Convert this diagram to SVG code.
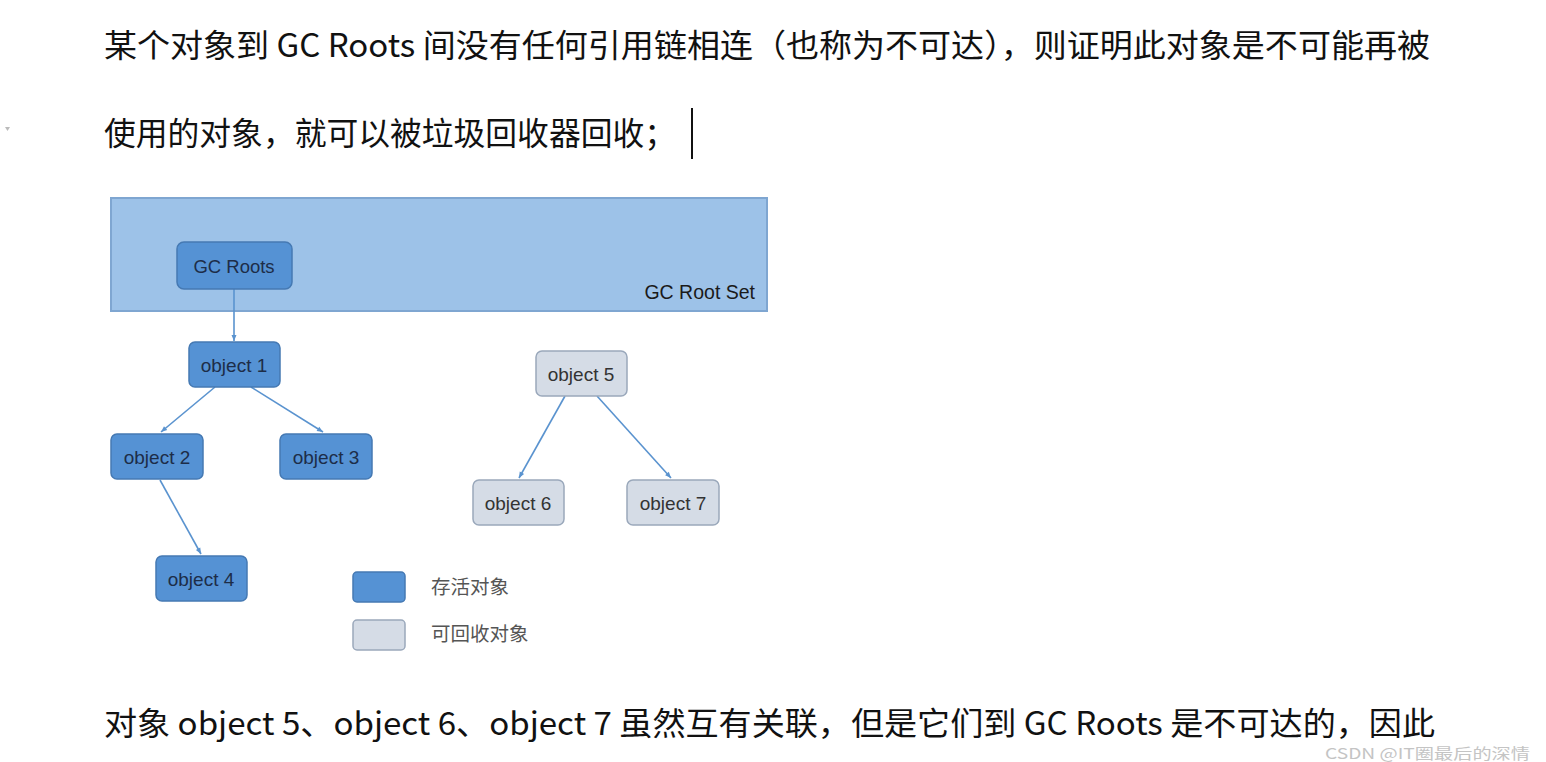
<svg xmlns="http://www.w3.org/2000/svg" width="1546" height="762" viewBox="0 0 1546 762">
<defs>
<marker id="ah" markerWidth="8" markerHeight="8" refX="7" refY="4" orient="auto" markerUnits="userSpaceOnUse">
<path d="M1,1.5 L7,4 L1,6.5 Z" fill="#5a93cf"/>
</marker>
<style>
.para{font-family:"Noto Sans CJK SC","Noto Sans",sans-serif;font-size:32px;fill:#111;}
.live rect{fill:#5592d4;stroke:#4579b3;stroke-width:1.5;}
.dead rect{fill:#d5dce6;stroke:#9aa8bb;stroke-width:1.5;}
.lbl{font-family:"Liberation Sans",Arial,sans-serif;font-size:19px;text-anchor:middle;dominant-baseline:central;}
.live .lbl{fill:#1d2d48;}
.dead .lbl{fill:#333;}
.conn line{stroke:#5a93cf;stroke-width:1.6;marker-end:url(#ah);}
.leg{font-family:"Liberation Serif","Noto Sans CJK SC",serif;font-size:19.5px;fill:#555;}
</style>
</defs>
<rect width="1546" height="762" fill="#fff"/>
<text class="para" x="104" y="57" textLength="1326" lengthAdjust="spacingAndGlyphs">某个对象到 GC Roots 间没有任何引用链相连（也称为不可达），则证明此对象是不可能再被</text>
<text class="para" x="104" y="145" textLength="572" lengthAdjust="spacingAndGlyphs">使用的对象，就可以被垃圾回收器回收；</text>
<line x1="692" y1="108" x2="692" y2="159" stroke="#111" stroke-width="2"/>
<path d="M5,127 L10,127 L7.5,131 Z" fill="#bbb"/>
<text class="para" x="104" y="735" textLength="1331" lengthAdjust="spacingAndGlyphs">对象 object 5、object 6、object 7 虽然互有关联，但是它们到 GC Roots 是不可达的，因此</text>
<text x="1325" y="759" font-family="'Noto Sans CJK SC','Liberation Sans',sans-serif" font-size="15" fill="#c4c4c4" textLength="205" lengthAdjust="spacingAndGlyphs">CSDN @IT圈最后的深情</text>

<g id="gc-root-set">
<rect x="111" y="198" width="656" height="113" fill="#9dc2e8" stroke="#7fa6d1" stroke-width="2"/>
<text x="755" y="299" font-family="'Liberation Sans',Arial,sans-serif" font-size="19.5" fill="#1a1a1a" text-anchor="end">GC Root Set</text>
</g>

<g class="conn" id="connectors">
<line x1="234" y1="289" x2="234" y2="341"/>
<line x1="215" y1="387" x2="161" y2="432"/>
<line x1="251" y1="387" x2="323" y2="432"/>
<line x1="160" y1="480" x2="201" y2="554"/>
<line x1="565" y1="396" x2="519" y2="478"/>
<line x1="597" y1="396" x2="671" y2="478"/>
</g>

<g id="gc-roots" class="live"><rect x="177" y="242" width="115" height="47" rx="7"/><text class="lbl" x="234" y="266" style="font-size:18.5px">GC Roots</text></g>
<g id="object1" class="live"><rect x="189" y="342" width="91" height="45" rx="6"/><text class="lbl" x="234" y="365">object 1</text></g>
<g id="object2" class="live"><rect x="111" y="434" width="92" height="45" rx="6"/><text class="lbl" x="157" y="457">object 2</text></g>
<g id="object3" class="live"><rect x="280" y="434" width="92" height="45" rx="6"/><text class="lbl" x="326" y="457">object 3</text></g>
<g id="object4" class="live"><rect x="156" y="556" width="91" height="45" rx="6"/><text class="lbl" x="201" y="579">object 4</text></g>
<g id="object5" class="dead"><rect x="536" y="351" width="91" height="45" rx="6"/><text class="lbl" x="581" y="374">object 5</text></g>
<g id="object6" class="dead"><rect x="473" y="480" width="91" height="45" rx="6"/><text class="lbl" x="518" y="503">object 6</text></g>
<g id="object7" class="dead"><rect x="627" y="480" width="92" height="45" rx="6"/><text class="lbl" x="673" y="503">object 7</text></g>

<g id="legend-live" class="live"><rect x="353" y="572" width="52" height="30" rx="4"/><text class="leg" x="431" y="594">存活对象</text></g>
<g id="legend-dead" class="dead"><rect x="353" y="620" width="52" height="30" rx="4"/><text class="leg" x="431" y="641">可回收对象</text></g>
</svg>
